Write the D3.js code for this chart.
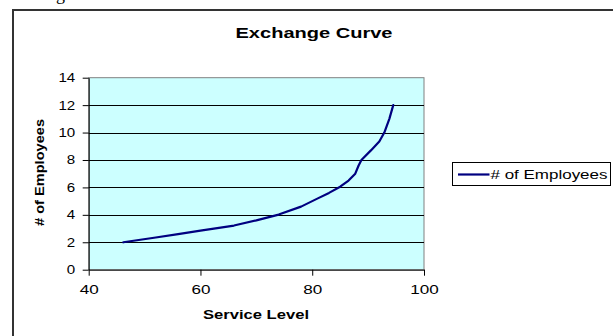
<!DOCTYPE html>
<html>
<head>
<meta charset="utf-8">
<script src="https://cdn.jsdelivr.net/npm/d3@7"></script>
<style>
  html, body { margin: 0; padding: 0; background: #fff; }
  svg { display: block; }
  text { font-family: "Liberation Sans", Arial, sans-serif; }
</style>
</head>
<body>
<svg id="chart" width="613" height="336"></svg>
<script>
// ---- data ----
const serviceLevel = [46.2, 52, 56, 60, 66, 70, 74, 78, 81, 83, 85, 86.5, 87.7, 88.3, 88.8, 90.5, 92, 92.9, 93.8, 94.5];
const employees    = [2, 2.35, 2.6, 2.85, 3.22, 3.6, 4.02, 4.6, 5.2, 5.6, 6.05, 6.5, 7, 7.6, 8, 8.7, 9.35, 10, 11, 12];
const xTicks = [40, 60, 80, 100];
const yTicks = [0, 2, 4, 6, 8, 10, 12, 14];
const chartTitle = "Exchange Curve";
const xTitle = "Service Level";
const yTitle = "# of Employees";
const seriesName = "# of Employees";

const svg = d3.select("#chart");

// fragment of the surrounding document text
svg.append("text").attr("x", 56).attr("y", 0)
  .style("font-family", "'Liberation Serif', 'Times New Roman', serif")
  .style("font-size", "18px").text("g");

// outer chart frame
svg.append("rect").attr("x", 13).attr("y", 10).attr("width", 700).attr("height", 400)
  .attr("fill", "#fff").attr("stroke", "#333").attr("stroke-width", 2);

const plot = { left: 88.7, right: 424, top: 77.7, bottom: 269.7 };
const x = d3.scaleLinear().domain([40, 100]).range([plot.left, plot.right]);
const y = d3.scaleLinear().domain([0, 14]).range([plot.bottom, plot.top]);

// plot area
svg.append("rect").attr("x", plot.left).attr("y", plot.top)
  .attr("width", plot.right - plot.left).attr("height", plot.bottom - plot.top)
  .attr("fill", "#ccffff").attr("stroke", "#808080").attr("stroke-width", 1);

// gridlines
svg.append("g").selectAll("line").data(yTicks.filter(d => d > 0 && d < 14)).join("line")
  .attr("x1", plot.left).attr("x2", plot.right)
  .attr("y1", d => Math.round(y(d)) + 0.5).attr("y2", d => Math.round(y(d)) + 0.5)
  .attr("stroke", "#000").attr("stroke-width", 1);

// axes
const xAxis = svg.append("g").attr("transform", `translate(0,${plot.bottom})`)
  .call(d3.axisBottom(x).tickValues(xTicks).tickSize(6).tickSizeOuter(0).tickPadding(9));
xAxis.selectAll("text")
  .style("font-size", "13px").attr("fill", "#000")
  .attr("textLength", d => String(d).length * 9.5).attr("lengthAdjust", "spacingAndGlyphs");

const yAxis = svg.append("g").attr("transform", `translate(${plot.left},0)`)
  .call(d3.axisLeft(y).tickValues(yTicks).tickSize(6).tickSizeOuter(0).tickPadding(7.5));
yAxis.selectAll("text")
  .style("font-size", "12.5px").attr("fill", "#000")
  .attr("textLength", d => String(d).length * 8.4).attr("lengthAdjust", "spacingAndGlyphs");

[xAxis, yAxis].forEach(a => {
  a.select(".domain").attr("stroke", "#000");
  a.selectAll(".tick line").attr("stroke", "#000");
});

// series line
const pts = serviceLevel.map((v, i) => [v, employees[i]]);
svg.append("path").datum(pts)
  .attr("fill", "none").attr("stroke", "#000080").attr("stroke-width", 2.2)
  .attr("stroke-linejoin", "round").attr("stroke-linecap", "round")
  .attr("d", d3.line().x(d => x(d[0])).y(d => y(d[1])));

// titles
svg.append("text").attr("x", 314).attr("y", 38.3).attr("text-anchor", "middle")
  .style("font-size", "14px").style("font-weight", "bold")
  .attr("textLength", 157).attr("lengthAdjust", "spacingAndGlyphs").text(chartTitle);

svg.append("text").attr("x", 256).attr("y", 319).attr("text-anchor", "middle")
  .style("font-size", "12.5px").style("font-weight", "bold")
  .attr("textLength", 106).attr("lengthAdjust", "spacingAndGlyphs").text(xTitle);

svg.append("text").attr("transform", "translate(44,172.5) rotate(-90)").attr("text-anchor", "middle")
  .style("font-size", "12.5px").style("font-weight", "bold")
  .attr("textLength", 107).attr("lengthAdjust", "spacingAndGlyphs").text(yTitle);

// legend
const lg = svg.append("g");
lg.append("rect").attr("x", 452.5).attr("y", 162.5).attr("width", 158).attr("height", 23)
  .attr("fill", "#fff").attr("stroke", "#000").attr("stroke-width", 1);
lg.append("line").attr("x1", 458).attr("x2", 489.5).attr("y1", 174.5).attr("y2", 174.5)
  .attr("stroke", "#000080").attr("stroke-width", 2.2);
lg.append("text").attr("x", 490.5).attr("y", 179.3)
  .style("font-size", "12px")
  .attr("textLength", 117).attr("lengthAdjust", "spacingAndGlyphs").text(seriesName);
</script>
</body>
</html>
